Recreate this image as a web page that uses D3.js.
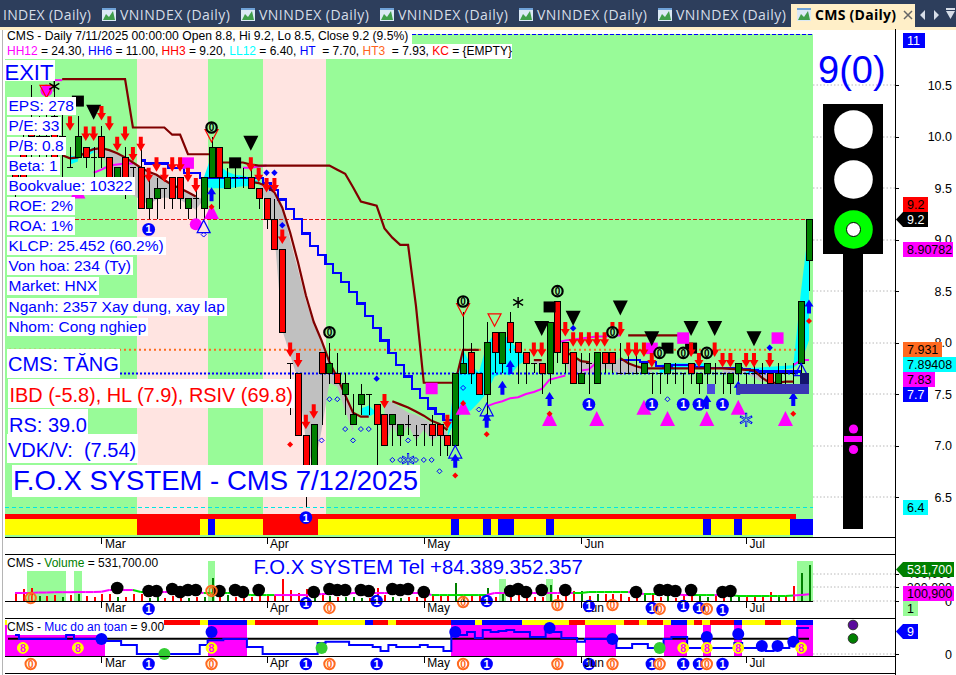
<!DOCTYPE html>
<html><head><meta charset="utf-8">
<style>html,body{margin:0;padding:0;background:#fff;overflow:hidden}svg{display:block}text{font-family:"Liberation Sans",Arial,sans-serif}</style>
<script src="https://cdnjs.cloudflare.com/ajax/libs/d3/7.9.0/d3.min.js"></script>
</head><body><svg id="c" width="956" height="675"></svg>
<script>
// ---------- data: one entry per trading bar (102 bars) ----------
const open=[9.7,9.9,10.1,9.9,10.0,10.2,9.9,9.7,9.8,9.9,9.8,10.0,9.8,9.5,9.8,9.7,9.7,9.3,9.4,9.5,9.6,9.6,9.3,9.4,9.3,9.6,9.9,9.5,9.6,9.6,9.6,9.5,9.4,9.2,8.9,7.8,7.7,7.1,6.6,7.9,7.7,7.7,7.5,7.2,7.4,7.5,7.4,7.3,7.2,7.1,7.2,7.1,7.2,7.2,7.2,7.1,7.0,7.7,7.9,7.7,7.5,8.1,7.8,8.2,8.0,7.9,7.8,7.8,7.7,8.4,8.0,7.9,7.6,7.8,7.6,7.9,7.9,7.7,7.7,7.7,7.7,7.7,7.7,7.7,7.7,7.7,7.8,7.6,7.7,7.7,7.7,7.6,7.7,7.7,7.7,7.7,7.7,7.6,7.7,7.7,7.8,8.8];
const high=[9.8,10.1,10.5,10.2,10.3,10.5,10.3,9.9,10.2,9.9,9.9,10.1,9.8,9.7,9.9,9.7,9.9,9.6,9.6,9.5,9.6,9.6,9.4,9.5,9.6,10.0,9.9,9.7,9.7,9.7,9.7,9.5,9.4,9.4,8.9,7.8,7.7,7.1,7.2,7.9,8.0,7.9,7.7,7.5,7.6,7.5,7.4,7.3,7.3,7.2,7.3,7.2,7.2,7.3,7.2,7.1,7.7,8.3,8.0,7.7,8.2,8.1,8.1,8.3,8.0,7.9,7.8,7.8,8.2,8.4,8.0,7.9,7.9,7.9,7.9,7.9,7.9,8.0,7.9,7.9,7.8,7.7,7.7,7.8,7.8,7.7,7.8,7.7,7.8,7.8,7.7,7.7,7.8,7.7,7.8,7.8,7.7,7.8,7.8,7.8,8.4,9.2];
const low=[9.4,9.5,9.8,9.7,9.8,9.7,9.6,9.7,9.8,9.7,9.6,9.7,9.5,9.5,9.4,9.5,9.3,9.2,9.2,9.3,9.3,9.3,9.2,9.2,9.2,9.6,9.3,9.5,9.5,9.5,9.5,9.3,9.1,8.9,8.1,7.3,7.1,6.4,6.6,7.2,7.6,7.6,7.3,7.2,7.3,7.3,6.8,7.0,7.0,7.0,7.1,7.0,7.0,7.0,6.9,6.9,7.0,7.7,7.6,7.5,7.3,7.7,7.7,7.9,7.6,7.6,7.7,7.5,7.6,7.8,7.7,7.6,7.6,7.5,7.6,7.7,7.7,7.7,7.7,7.7,7.7,7.5,7.5,7.6,7.6,7.5,7.6,7.5,7.5,7.6,7.5,7.5,7.6,7.6,7.6,7.6,7.6,7.6,7.6,7.6,7.7,8.5];
const close=[9.5,9.6,10.0,10.0,9.9,9.8,10.0,9.7,10.0,9.8,9.8,9.8,9.6,9.7,9.5,9.7,9.3,9.4,9.5,9.5,9.4,9.4,9.4,9.4,9.6,9.9,9.6,9.6,9.6,9.6,9.5,9.4,9.2,8.9,8.1,7.8,7.1,6.6,7.2,7.7,7.8,7.6,7.6,7.3,7.5,7.5,7.2,7.0,7.3,7.2,7.2,7.1,7.2,7.1,7.1,7.0,7.7,7.8,7.7,7.5,8.0,7.9,8.1,8.0,7.9,7.8,7.8,7.7,8.2,7.9,7.8,7.6,7.7,7.8,7.9,7.8,7.8,7.7,7.7,7.7,7.8,7.7,7.7,7.8,7.7,7.7,7.7,7.7,7.8,7.7,7.7,7.7,7.8,7.7,7.7,7.7,7.6,7.7,7.7,7.7,8.4,9.2];
const volume=[110000,180000,190000,80000,70000,90000,60000,90000,110000,80000,60000,100000,110000,60000,60000,110000,110000,40000,70000,40000,80000,60000,50000,60000,60000,340000,120000,90000,60000,50000,60000,70000,110000,90000,325000,160000,120000,170000,150000,120000,70000,60000,60000,60000,50000,50000,190000,90000,60000,50000,60000,60000,70000,100000,90000,80000,265000,70000,90000,70000,190000,60000,110000,80000,90000,50000,60000,60000,235000,90000,80000,150000,145000,80000,100000,100000,110000,100000,60000,70000,90000,120000,60000,80000,50000,100000,110000,90000,60000,90000,60000,70000,90000,60000,80000,90000,130000,70000,80000,220000,415000,531700];
const volAvg=[118000,118000,120000,125000,125000,130000,130000,130000,132000,132000,132000,137000,162000,162000,162000,162000,133000,133000,133000,133000,133000,133000,133000,133000,118000,118000,118000,118000,118000,103000,88000,88000,88000,88000,88000,88000,88000,88000,88000,103000,103000,103000,103000,118000,118000,118000,118000,118000,118000,118000,118000,118000,118000,88000,88000,88000,88000,88000,88000,88000,88000,118000,118000,118000,118000,118000,118000,118000,118000,118000,118000,118000,118000,133000,133000,133000,133000,133000,133000,118000,103000,103000,103000,103000,103000,88000,88000,88000,88000,88000,88000,88000,74000,74000,74000,74000,74000,74000,74000,80000,90000,100900];
const volAvgLimeRuns=[[15,17],[24,33],[53,60],[71,78],[80,82],[86,89],[91,99]];
const safety=[6.6,5.2,5.2,5.2,5.2,5.2,5.2,6.6,5.2,5.2,5.2,5.2,4.5,4.5,3.1,3.1,0,0,0,0,0,0,0,0,3.1,4.8,4.8,5.2,5.2,5.2,2.4,2.4,0,0,0,0,0,0,0,3.8,4.2,4.2,4.2,3.1,3.1,3.1,2.4,1,3.1,2.4,2.4,2.4,3.1,2.4,2.4,1,6.6,6.6,7.6,5.5,8.3,7.6,8,8.3,7.6,7.6,5.9,5.9,7.6,7.6,5.5,5.5,4.2,5.2,5.2,5.2,5.2,2.1,2.1,3.5,3.5,2.1,2.1,5.2,5.9,5.9,2.1,2.1,2.1,2.1,2.1,2.1,3.8,2.1,2.1,2.1,1,2.1,2.1,3.8,9,9];
const safetyLevel=5.3;
const months=["Mar","Apr","May","Jun","Jul"];
const monthBars=[11,32,52,72,93];
const priceTicks=[6.5,7,7.5,8,8.5,9,9.5,10,10.5];
const volTicks=[0,200000,400000];

// price levels drawn across the pane
const levelHH6=11, levelLL12=6.4, levelHH3=9.2, levelHT3=7.931, levelHT=7.7;

// indicator lines: [bar, price]
const stopLine=[[6,10.56],[14,10.56],[15,10.09],[19,10.09],[20,10.02],[21,10.02],[22,9.83],[25,9.83],[26,9.75],[29,9.75],[30,9.73],[31,9.72],[40,9.72],[41,9.68],[42,9.64],[43,9.51],[44,9.37],[45,9.35],[46,9.33],[47,9.11],[48,9.02],[49,8.95],[50,8.95],[51,8.36],[52,7.61],[56,7.61],[57,7.93],[59,7.93]];
const stopLine2=[[66,7.83],[67,7.83]];
const stopLine3=[[78,8.07],[85,8.07],[86,7.93]];
const emaA=[[6,9.82],[7,9.79],[8,9.80],[9,9.85],[10,9.88],[11,9.89],[12,9.87],[13,9.84],[14,9.80],[15,9.75],[16,9.70],[17,9.66],[18,9.63],[19,9.58],[20,9.53],[21,9.50],[22,9.46],[23,9.42]];
const emaB=[[30,9.56],[31,9.55],[32,9.52],[33,9.46],[34,9.31],[35,9.07],[36,8.78],[37,8.46],[38,8.20],[39,8.02],[40,7.81],[41,7.66],[42,7.49],[43,7.32],[44,7.28],[45,7.28]];
const emaC=[[48,7.43],[49,7.40],[50,7.37],[51,7.33],[52,7.29],[53,7.24],[54,7.21],[55,7.15]];
const emaD=[[70,7.91],[71,7.87],[72,7.82],[73,7.81]];
const emaE=[[77,7.85],[78,7.80],[79,7.77],[80,7.75],[86,7.75],[90,7.75],[94,7.73],[95,7.66],[96,7.61],[97,7.61],[98,7.62],[99,7.62]];
const stepA=[[16,9.77],[17,9.74],[18,9.74],[19,9.74],[20,9.70],[21,9.70],[22,9.65],[23,9.65],[24,9.60],[25,9.60],[26,9.60],[27,9.60],[28,9.60],[29,9.60],[30,9.60],[31,9.60],[32,9.55],[33,9.48],[34,9.39],[35,9.30],[36,9.20],[37,9.06],[38,8.94],[39,8.85],[40,8.76],[41,8.68],[42,8.59],[43,8.49],[44,8.38],[45,8.26],[46,8.14],[47,8.02],[48,7.90],[49,7.78],[50,7.67],[51,7.55],[52,7.46],[53,7.36],[54,7.31],[55,7.25],[56,7.25]];
const stepB=[[77,7.83],[78,7.83],[79,7.83],[80,7.81],[81,7.81],[82,7.77],[83,7.76],[84,7.78],[85,7.78],[86,7.78],[87,7.76],[88,7.75],[89,7.75],[90,7.75],[91,7.75],[92,7.75],[93,7.74],[94,7.73],[95,7.72],[96,7.72],[97,7.72],[98,7.72],[99,7.72],[100,7.72]];
const rsA=[[5,10.55],[6,10.55]];
const rsB=[[10,9.65],[11,9.68],[12,9.72],[13,9.73],[14,9.74],[15,9.74]];
const rsC=[[29,9.70],[30,9.70],[31,9.71],[32,9.72]];
const rsD=[[60,7.38],[61,7.41],[62,7.43],[63,7.46],[64,7.47],[65,7.50],[66,7.52],[67,7.55],[68,7.64],[69,7.66],[70,7.68]];
const rsG=[[72,7.73],[73,7.74],[74,7.81]];
const rsE=[[69,8.00],[70,8.02],[71,8.03],[72,8.04],[73,8.05],[74,8.06],[75,8.06],[76,8.07],[77,8.07]];
const rsF=[[99,7.78],[100,7.83],[101,7.83]];

// clouds: [bar, upper, lower]
const grayClouds=[
 [[10,9.87,9.85],[11,9.89,9.82],[12,9.87,9.68],[13,9.84,9.53],[14,9.80,9.48],[15,9.75,9.43],[16,9.70,9.39],[17,9.66,9.34],[18,9.63,9.39],[19,9.58,9.41],[20,9.53,9.40],[21,9.50,9.39],[22,9.46,9.34],[23,9.42,9.29],[24,9.39,9.39]],
 [[31,9.55,9.55],[32,9.52,9.34],[33,9.48,9.05],[34,9.34,8.12],[35,9.00,7.88],[36,8.71,7.64],[37,8.41,7.05],[38,8.17,6.76],[39,8.02,7.15],[40,7.81,7.61],[41,7.68,7.57],[42,7.54,7.34],[43,7.32,7.13]],
 [[47,7.44,6.97],[48,7.42,7.20],[49,7.37,7.05],[50,7.32,7.20],[51,7.30,7.05],[52,7.26,7.15],[53,7.22,7.05],[54,7.17,7.10],[55,7.13,7.00]],
 [[70,7.85,7.81],[71,7.81,7.61],[72,7.83,7.66],[73,7.81,7.71],[74,7.81,7.68],[75,7.81,7.75],[76,7.81,7.73],[77,7.85,7.68],[78,7.81,7.71],[79,7.78,7.71],[80,7.78,7.73],[81,7.73,7.71]],
 [[66,7.83,7.80],[67,7.81,7.78]],
 [[90,7.75,7.70],[91,7.75,7.70],[92,7.75,7.70],[93,7.75,7.70],[95,7.70,7.62],[96,7.70,7.62]]
];
const cyanClouds=[
 [[9,9.85,9.80],[10,9.90,9.85]],
 [[7,9.82,9.73],[8,9.80,9.76]],
 [[24,9.60,9.52],[25,9.82,9.50],[26,9.72,9.50],[27,9.66,9.50],[28,9.63,9.51],[29,9.62,9.52],[30,9.60,9.52],[31,9.57,9.55]],
 [[44,7.36,7.30],[45,7.39,7.28],[46,7.32,7.32]],
 [[55,7.08,7.08],[56,7.66,7.25],[57,7.93,7.32],[58,7.78,7.34],[59,7.71,7.42],[60,7.98,7.51],[61,8.09,7.67],[62,8.09,7.70],[63,8.02,7.68],[64,7.93,7.78],[65,7.85,7.83]],
 [[82,7.78,7.70],[83,7.80,7.72],[85,7.80,7.75],[88,7.80,7.75]],
 [[93,7.75,7.70],[99,7.78,7.75]],
 [[99,7.78,7.75],[100,8.51,7.81],[101,9.14,8.02]]
];

// signals: [bar, price]
const redArrows=[[7,10.2],[11,10.3],[12,10.2],[9,10.1],[10,10.1],[13,10.0],[14,10.1],[15,9.9],[16,10.0],[17,9.7],[18,9.8],[19,9.7],[20,9.8],[21,9.8],[22,9.7],[23,9.6],[30,9.8],[31,9.7],[32,9.6],[33,9.6],[34,9.1],[35,8.0],[36,7.9],[37,7.3],[38,7.4],[47,7.5],[55,7.3],[66,8.0],[67,8.0],[70,8.2],[71,8.1],[72,8.1],[73,8.1],[74,8.1],[75,8.1],[76,8.2],[77,8.2],[78,8.0],[79,8.0],[80,8.0],[81,7.9],[86,8.0],[87,7.9],[89,8.0],[90,7.9],[91,7.9],[93,7.9],[94,7.9],[96,7.9]];
const blueArrows=[[25,9.51],[56,6.92],[60,7.31],[62,7.63],[63,7.83],[68,7.52],[88,7.49],[92,7.63],[99,7.52],[101,8.42]];
const blackTriangles=[[30,10.01],[10,10.31],[67,8.21],[71,8.31],[77,8.41],[81,8.11],[86,8.21],[89,8.21],[94,8.11]];
const magentaTriangles=[[25,9.20],[57,7.30],[68,7.19],[74,7.19],[80,7.30],[83,7.19],[88,7.19],[92,7.30],[98,7.19],[8,9.4]];
const blackSquares=[[28,9.80],[8,10.40],[68,8.40],[83,8.00],[86,8.00]];
const magentaSquares=[[22,9.80],[53,7.61],[81,8.00],[85,8.10],[97,8.10]];
const zeroMarks=[[25,10.09],[40,8.10],[57,8.40],[69,8.50],[76,8.10],[82,7.90],[85,7.90],[88,7.90]];
const oneMarks=[[17,9.10],[37,6.30],[73,7.40],[81,7.40],[85,7.40],[87,7.40],[90,7.40]];
const redOutlineDown=[[25,10.07],[57,8.38],[61,8.28],[4,10.5]];
const blueOutlineUp=[[24,9.19],[56,7.00],[60,7.41],[100,7.80]];
const redDiamonds=[[25,9.32],[35,7.01],[56,6.71],[57,7.41],[60,7.11],[68,7.31],[99,7.31],[101,8.21]];
const blueDiamonds=[[32,9.65],[33,9.65],[34,9.14],[46,7.65],[71,8.14],[96,7.95],[60,7.28]];
const openDiamonds=[[24,9.05],[40,7.45],[41,7.45],[42,7.16],[43,7.05],[44,7.16],[45,7.16],[39,7.05],[48,6.86],[49,6.86],[50,7.05],[51,6.86],[52,6.86],[53,6.86],[54,6.75],[57,7.56],[59,7.35],[83,7.45]];
const snowflakes=[[50,6.86],[93,7.25]];
const asterisks=[[5,10.49],[64,8.39]];
const magentaDots=[[4,10.45],[23,9.15]];
// translucent boxes: [start bar, end bar, top price, bottom price]
const blueBoxes=[[91.8,101,7.6,7.5,"#3a36b4"],[88.05,89.06,7.6,7.5,"#4a4ae0"],[99.86,101,7.7,7.6,"#14146e"]];

// volume pane marks
const volHighlights=[[2,6,443000],[8,8,443000],[25,25,590000],[62,62,325000],[68,68,325000],[100,101,590000]];
const volBlackDots=[[13,192000],[17,148000],[18,148000],[20,177000],[21,133000],[22,162000],[23,162000],[26,148000],[28,162000],[29,133000],[31,162000],[38,133000],[40,177000],[41,162000],[42,162000],[44,162000],[45,148000],[48,177000],[49,162000],[50,177000],[52,133000],[63,148000],[64,177000],[65,133000],[67,162000],[70,162000],[79,133000],[82,162000],[83,162000],[84,148000],[86,162000],[90,133000],[91,148000]];
const volOnes=[[17,-118000],[37,-30000],[46,0],[60,0],[73,-74000],[81,-103000],[85,-74000],[87,-103000],[90,-133000]];
const volZeros=[[2,44000],[25,148000],[40,-103000],[57,-15000],[69,-59000],[76,-59000],[82,-118000],[88,-118000]];

// safety pane marks
const safetyFill=[[-1.25,11.5],[24.5,29.5],[55.5,71.5],[72.5,76.5],[82.5,85.5],[87.5,88.5],[91.5,92.5],[99.5,101.5]];
const safetyBlue=[[11,5.2],[25,7.6],[56,7.6],[68,9],[76,5.2],[88,5.9],[92,6.9],[95,2.8],[97,2.8],[99,4.2]];
const safetyGreen=[[19,0],[39,2.1],[82,2.1]];
const safetyEight=[1,8,25,85,88,92,100];
const rowOnes=[17,37,46,60,73,81,85,87,90];
const rowZeros=[2,25,40,57,69,76,82,88];
const rowValue=-3.46;
const stripRuns=[[-1.25,18.95,"Y"],[18.95,23.53,"R"],[23.53,24.55,"Y"],[24.55,29.5,"B"],[29.5,30.5,"Y"],[30.5,38.5,"R"],[38.5,44.5,"Y"],[44.5,45.5,"B"],[45.5,47.45,"R"],[47.45,48.5,"Y"],[48.5,55.5,"R"],[55.5,58.5,"B"],[58.5,59.4,"Y"],[59.4,64.5,"B"],[64.5,66.4,"Y"],[66.4,70.5,"Y"],[70.5,72.5,"R"],[72.5,77.5,"Y"],[77.5,79.4,"R"],[79.4,80.4,"Y"],[80.4,82.4,"R"],[82.4,83.45,"Y"],[83.45,85.5,"B"],[85.5,86.4,"Y"],[86.4,87.4,"R"],[87.4,88.4,"Y"],[88.4,91.5,"R"],[91.5,92.5,"B"],[92.5,95.4,"Y"],[95.4,97.4,"R"],[97.4,99.35,"Y"],[99.35,101.5,"B"]];
const ribbonRuns=[[-1.25,101.5,"Y"],[15.5,23.5,"R"],[24.5,25.5,"B"],[31.5,38.5,"R"],[55.5,56.5,"B"],[59.5,60.5,"B"],[61.5,63.5,"B"],[67.5,68.5,"B"],[87.5,88.5,"B"],[91.5,92.5,"B"],[98.6,101.5,"B"]];
const ribbonTopEnd=99.4;
const pinkZones=[[15.5,24.5],[31.5,39.5]];

// text
const tabNames=["INDEX (Daily)","VNINDEX (Daily)","VNINDEX (Daily)","VNINDEX (Daily)","VNINDEX (Daily)","VNINDEX (Daily)"];
const header1="CMS - Daily 7/11/2025 00:00:00 Open 8.8, Hi 9.2, Lo 8.5, Close 9.2 (9.5%)";
const header2=[["HH12","#ff00ff"],[" = 24.30, ","#000"],["HH6","#0000ff"],[" = 11.00, ","#000"],["HH3","#ff0000"],[" = 9.20, ","#000"],["LL12","#00ffff"],[" = 6.40, ","#000"],["HT","#0000ff"],["  = 7.70, ","#000"],["HT3","#ff6420"],["  = 7.93, ","#000"],["KC","#ff0000"],[" = {EMPTY}","#000"]];
const infoLabels=["EPS: 278","P/E: 33","P/B: 0.8","Beta: 1","Bookvalue: 10322","ROE: 2%","ROA: 1%","KLCP: 25.452 (60.2%)","Von hoa: 234 (Ty)","Market: HNX","Nganh: 2357 Xay dung, xay lap","Nhom: Cong nghiep"];
const bigLabels=[["EXIT",4.5,80,22,"#0000ff",60,21],["CMS: TĂNG",8,371,20,"#0000ff",349,29],["IBD (-5.8), HL (7.9), RSIV (69.8)",9.5,402,19.9,"#ff0000",379,29],["RS: 39.0",9,432,20,"#0000ff",409,25],["VDK/V:  (7.54)",8,457,20,"#0000ff",434,29],["F.O.X SYSTEM - CMS 7/12/2025",13,490,27.5,"#0000ff",465,32]];
const rightTags=[["11",903,33,22,"#0000ff","#fff",0],["9.2",903,197,25,"#ff0000","#000",0],["9.2",903,212,25,"#000","#fff",1],["8.90782",903,242,50,"#ff00ff","#000",0],["7.931",903,342,39,"#ff6a20","#000",0],["7.89408",903,357,53,"#00ffff","#000",0],["7.83",903,372,32,"#ff00ff","#000",0],["7.7",903,387,25,"#0000ff","#fff",0],["6.4",903,500,25,"#00ffff","#000",0],["531,700",903,562,51,"#008000","#fff",1],["100,900",903,586,51,"#ff00ff","#000",0],["1",903,601,15,"#98fb98","#000",0],["9",903,624,15,"#0000ff","#fff",1]];

// ---------- scales ----------
const x=d3.scaleLinear().domain([0,101]).range([15,809]);
const y=d3.scaleLinear().domain([6.5,10.5]).range([497,85.3]);
const yv=d3.scaleLinear().domain([0,531700]).range([601,565]);
const ys=d3.scaleLinear().domain([0,9]).range([654,628]);
const pal={Y:"#ffff00",R:"#ff0000",B:"#0000ff"};
const LEFT=5,RIGHT=813,AX=895,GREEN="#98fb98",PINK="#ffe4e1";
const svg=d3.select("#c");
const rect=(g,a,b,c,d,f)=>g.append("rect").attr("x",a).attr("y",b).attr("width",c).attr("height",d).attr("fill",f).attr("shape-rendering","crispEdges");
const edge=k=>Math.max(LEFT,Math.min(RIGHT,x(k)));

// ---------- chrome ----------
const chrome=svg.append("g");
rect(chrome,0,0,956,27,"#2d3e5c");
rect(chrome,0,27,956,2.5,"#ffefc8");
const tabTextX=[3,120,259,398,537,676], tabIconX=[null,102,241,380,519,658];
function icon(g,ix){rect(g,ix,8,14,13,"#dbe9f5");g.append("path").attr("d",`M${ix+1},20L${ix+4},14L${ix+7},17L${ix+11},11L${ix+13},20Z`).attr("fill","#3f9e4a");rect(g,ix,8,14,2,"#6fa2d8");}
tabNames.forEach((t,i)=>{
  if(tabIconX[i]!==null)icon(chrome,tabIconX[i]);
  chrome.append("text").attr("x",tabTextX[i]).attr("y",20).attr("font-size",14).style("font-family","'Open Sans'").attr("textLength",i?110:88).attr("fill","#d6dde8").text(t);
});
rect(chrome,791,4,124,25,"#ffefc8");
icon(chrome,797);
chrome.append("text").attr("x",815).attr("y",20).attr("font-size",14).attr("font-weight",700).style("font-family","'Open Sans'").attr("textLength",81).attr("fill","#000").text("CMS (Daily)");
chrome.append("path").attr("d","M904,11L912,19M912,11L904,19").attr("stroke","#666").attr("stroke-width",1.5);
chrome.append("path").attr("d","M925,10L920,15L925,20ZM934,10L939,15L934,20ZM946,11H955L950.5,19Z M946,8H955").attr("fill","#d6dde8");
rect(chrome,946,8,9,1.5,"#d6dde8");
rect(svg,2,30,1,645,"#b5b5b5");

// ---------- main pane ----------
const main=svg.append("g");
rect(main,LEFT,34,RIGHT-LEFT,503,GREEN);
pinkZones.forEach(z=>rect(main,x(z[0]),34,x(z[1])-x(z[0]),480,PINK));
// grid in the right margin
priceTicks.forEach(p=>main.append("line").attr("x1",RIGHT).attr("x2",AX).attr("y1",Math.round(y(p))).attr("y2",Math.round(y(p))).attr("stroke","#b8b8b8").attr("stroke-dasharray","1.5,2"));
// ribbon
ribbonRuns.forEach(r=>rect(main,edge(r[0]),519,edge(r[1])-edge(r[0]),16,pal[r[2]]));
rect(main,LEFT,514,x(ribbonTopEnd)-LEFT,5,"#ff0000");
// clouds
const cloud=d3.area().x(d=>x(d[0])).y0(d=>y(d[2])).y1(d=>y(d[1]));
grayClouds.forEach(c=>main.append("path").attr("d",cloud(c)).attr("fill","#c0c0c0"));
cyanClouds.forEach(c=>main.append("path").attr("d",cloud(c)).attr("fill","#00ffff"));
// level lines
const level=(p,x1,col,dash,w)=>main.append("line").attr("x1",x1).attr("x2",RIGHT).attr("y1",Math.round(y(p))).attr("y2",Math.round(y(p))).attr("stroke",col).attr("stroke-width",w||1).attr("stroke-dasharray",dash).attr("shape-rendering","crispEdges");
level(levelHH6,412,"#0000ff","4,2");
level(levelLL12,5,"#00e5e5","4,3");
level(levelHH3,75,"#e01010","4,2");
main.append("line").attr("x1",9).attr("x2",796).attr("y1",y(levelHT3)).attr("y2",y(levelHT3)).attr("stroke","#ff6a20").attr("stroke-width",2).attr("stroke-dasharray","2,3");
main.append("line").attr("x1",120).attr("x2",802).attr("y1",y(levelHT)).attr("y2",y(levelHT)).attr("stroke","#0000ff").attr("stroke-width",2).attr("stroke-dasharray","2,2");
// lines
const ln=d3.line().x(d=>x(d[0])).y(d=>y(d[1]));
const stp=d3.line().curve(d3.curveStep).x(d=>x(d[0])).y(d=>y(d[1]));
[rsA,rsB,rsC,rsD,rsG,rsE,rsF].forEach(s=>main.append("path").attr("d",ln(s)).attr("fill","none").attr("stroke","#ff00ff").attr("stroke-width",2));
[stepA,stepB].forEach(s=>main.append("path").attr("d",stp(s)).attr("fill","none").attr("stroke","#0000ff").attr("stroke-width",2.2).attr("shape-rendering","crispEdges"));
[stopLine,stopLine2,stopLine3,emaA,emaB,emaC,emaD,emaE].forEach(s=>main.append("path").attr("d",ln(s)).attr("fill","none").attr("stroke","#800000").attr("stroke-width",2.2));
// candles
const bars=d3.range(open.length);
const cg=main.append("g").attr("shape-rendering","crispEdges");
cg.selectAll("line.w").data(bars).join("line").attr("class","w").attr("x1",k=>Math.round(x(k))).attr("x2",k=>Math.round(x(k))).attr("y1",k=>y(high[k])).attr("y2",k=>y(low[k])).attr("stroke","#000");
cg.selectAll("rect.b").data(bars.filter(k=>open[k]!==close[k])).join("rect").attr("class","b")
 .attr("x",k=>Math.round(x(k))-3).attr("width",6)
 .attr("y",k=>y(Math.max(open[k],close[k]))).attr("height",k=>Math.abs(y(open[k])-y(close[k])))
 .attr("fill",k=>close[k]>open[k]?"#008000":"#ff0000").attr("stroke","#000");
cg.selectAll("line.d").data(bars.filter(k=>open[k]===close[k])).join("line").attr("class","d").attr("x1",k=>Math.round(x(k))-3).attr("x2",k=>Math.round(x(k))+3).attr("y1",k=>y(open[k])).attr("y2",k=>y(open[k])).attr("stroke","#000");
// marks
const place=(g,data,d,attrs)=>{const s=g.selectAll(null).data(data).join("path").attr("d",d).attr("transform",e=>`translate(${x(e[0])},${y(e[1])})`);Object.entries(attrs).forEach(([a,b])=>s.attr(a,b));return s;};
place(main,blackSquares,"M-6,0H6V11H-6Z",{fill:"#000"});
place(main,magentaSquares,"M-6,0H6V11.5H-6Z",{fill:"#ff00ff"});
main.selectAll(null).data(magentaDots).join("circle").attr("cx",d=>x(d[0])).attr("cy",d=>y(d[1])).attr("r",6).attr("fill","#ff00ff");
place(main,magentaTriangles,"M0,-15L7.5,0H-7.5Z",{fill:"#ff00ff"});
place(main,blackTriangles,"M-7.5,0H7.5L0,15Z",{fill:"#000"});
place(main,redOutlineDown,"M-6.5,0H6.5L0,12.5Z",{fill:"none",stroke:"#ff0000","stroke-width":1.2});
place(main,redArrows,"M-2,0H2V7H4.5L0,14.5L-4.5,7H-2Z",{fill:"#ff0000"});
place(main,blueArrows,"M0,0L4.5,7H2V14H-2V7H-4.5Z",{fill:"#0000ff"});
place(main,blueOutlineUp,"M0,0L6.5,12.5H-6.5Z",{fill:"none",stroke:"#0000ff","stroke-width":1.2});
place(main,redDiamonds,"M0,-3L3,0L0,3L-3,0Z",{fill:"#ff0000"});
place(main,blueDiamonds,"M0,-3.2L3.2,0L0,3.2L-3.2,0Z",{fill:"#0000ff"});
place(main,openDiamonds,"M0,-2.5L2.5,0L0,2.5L-2.5,0Z",{fill:"none",stroke:"#0000ff"});
place(main,snowflakes,"M0,-7V7M-6,-3.5L6,3.5M-6,3.5L6,-3.5",{fill:"none",stroke:"#0000ff","stroke-width":2.2});
place(main,snowflakes,"M0,-6V6M-5,-3L5,3M-5,3L5,-3",{fill:"none",stroke:GREEN,"stroke-width":.8});
place(main,asterisks,"M0,-5.5V5.5M-5,-3L5,3M-5,3L5,-3",{fill:"none",stroke:"#000","stroke-width":1.4});
// round badges
function badge(g,px,py,r,fill,stroke,sw,txt,col,fs,bold){
  g.append("circle").attr("cx",px).attr("cy",py).attr("r",r).attr("fill",fill).attr("stroke",stroke).attr("stroke-width",sw);
  g.append("text").attr("x",px).attr("y",py+fs*.36).attr("text-anchor","middle").attr("font-size",fs).attr("font-weight",bold?700:400).attr("fill",col).text(txt);
}
zeroMarks.forEach(d=>badge(main,x(d[0]),y(d[1]),5.2,GREEN,"#000",2.2,"0","#000",10,1));
oneMarks.forEach(d=>badge(main,x(d[0]),y(d[1]),6.4,"#0000ff","none",0,"1","#fff",11,1));
blueBoxes.forEach(b=>rect(main,x(b[0]),y(b[2]),x(b[1])-x(b[0]),y(b[3])-y(b[2]),b[4]));
// text boxes
function boxed(g,txt,tx,base,fs,col,top,h,padL,padR){
  const t=g.append("text").attr("x",tx).attr("y",base).attr("font-size",fs).attr("fill",col).attr("xml:space","preserve").style("white-space","pre").text(txt);
  const w=t.node().getComputedTextLength();
  g.insert("rect","text").attr("x",tx-padL).attr("y",top).attr("width",w+padL+padR).attr("height",h).attr("fill","#fff").attr("shape-rendering","crispEdges");
}
infoLabels.forEach((t,i)=>{const g=main.append("g");boxed(g,t,8.5,110.5+i*20.1,15.5,"#0000ff",96.5+i*20.1,18,1.5,2);});
bigLabels.forEach(b=>{const g=main.append("g");boxed(g,b[0],b[1],b[2],b[3],b[4],b[5],b[6],1.5,1.5);});
// header
rect(main,LEFT,29.5,407,14.5,"#fff");rect(main,LEFT,44,507,15,"#fff");
main.append("text").attr("x",7).attr("y",40).attr("font-size",12.15).attr("fill","#000").text(header1);
const h2=main.append("text").attr("x",7).attr("y",55).attr("font-size",12).attr("xml:space","preserve").style("white-space","pre");
header2.forEach(p=>h2.append("tspan").attr("fill",p[1]).text(p[0]));

// ---------- volume pane ----------
const vp=svg.append("g");
volHighlights.forEach(h=>rect(vp,x(h[0])-3.9,yv(h[2]),x(h[1])-x(h[0])+7.8,601-yv(h[2]),GREEN));
vp.selectAll(null).data(bars).join("rect").attr("x",k=>Math.round(x(k))-.5).attr("width",2).attr("y",k=>yv(volume[k])).attr("height",k=>601-yv(volume[k])).attr("fill",k=>close[k]>open[k]?"#008000":"#ff0000").attr("shape-rendering","crispEdges");
const isLime=k=>volAvgLimeRuns.some(r=>k>=r[0]&&k<r[1]);
vp.selectAll(null).data(bars.slice(0,-1)).join("line").attr("x1",k=>x(k)).attr("x2",k=>x(k+1)).attr("y1",k=>yv(volAvg[k])).attr("y2",k=>yv(volAvg[k+1])).attr("stroke",k=>isLime(k)?"#00e000":"#ff00ff").attr("stroke-width",2);
vp.selectAll(null).data(volBlackDots).join("circle").attr("cx",d=>x(d[0])).attr("cy",d=>yv(d[1])).attr("r",6.3).attr("fill","#000");
vp.append("text").attr("x",7).attr("y",567).attr("font-size",12).attr("xml:space","preserve").style("white-space","pre").call(t=>{t.append("tspan").text("CMS - ");t.append("tspan").attr("fill","#008000").text("Volume");t.append("tspan").text(" = 531,700.00");});
vp.append("text").attr("x",253.5).attr("y",574).attr("font-size",20.3).attr("fill","#0000ff").text("F.O.X SYSTEM Tel +84.389.352.357");

// ---------- safety pane ----------
const sp=svg.append("g");
stripRuns.forEach(r=>rect(sp,edge(r[0]),620,edge(r[1])-edge(r[0]),5,pal[r[2]]));
safetyFill.forEach(r=>rect(sp,edge(r[0]),625,edge(r[1])-edge(r[0]),31,"#ff00ff"));
rect(sp,6.5,619,157,16,"#fff");
sp.append("text").attr("x",7).attr("y",631).attr("font-size",12).attr("xml:space","preserve").style("white-space","pre").call(t=>{t.append("tspan").text("CMS - ");t.append("tspan").attr("fill","#0000ff").text("Muc do an toan");t.append("tspan").text(" = 9.00");});
sp.append("line").attr("x1",8).attr("x2",809).attr("y1",ys(safetyLevel)).attr("y2",ys(safetyLevel)).attr("stroke","#000").attr("stroke-width",2);
sp.append("path").attr("d",d3.line().curve(d3.curveStep).x((d,i)=>x(i)).y(d=>ys(d))(safety)).attr("fill","none").attr("stroke","#0000ff").attr("stroke-width",2);
safetyBlue.forEach(d=>sp.append("circle").attr("cx",x(d[0])).attr("cy",ys(d[1])).attr("r",6).attr("fill","#0000ff"));
safetyGreen.forEach(d=>sp.append("circle").attr("cx",x(d[0])).attr("cy",ys(d[1])).attr("r",6).attr("fill","#32cd32"));
safetyEight.forEach(k=>badge(sp,x(k),ys(2.1),5.4,"#ffff00","#ffff00",1,"8","#ff00ff",10.5,1));
rowOnes.forEach(k=>badge(sp,x(k),ys(rowValue),6.2,"#0000ff","none",0,"1","#fff",11,1));
rowZeros.forEach(k=>badge(sp,x(k),ys(rowValue),5.2,"#fff","#ff6a20",2,"0","#ff6a20",10.5,1));

// ---------- axes ----------
const axg=svg.append("g");
function monthAxis(py){
  const a=axg.append("g").attr("transform",`translate(0,${py})`).call(d3.axisBottom(x).tickValues(monthBars).tickFormat((d,i)=>months[i]).tickSize(7));
  a.select(".domain").remove();
  a.selectAll("line").attr("stroke","#000").attr("shape-rendering","crispEdges");
  a.selectAll("text").attr("text-anchor","start").attr("x",3).attr("y",2.5).attr("dy",".71em").attr("font-size",12).style("font-family","'Liberation Sans'").attr("fill","#000");
}
monthAxis(537);monthAxis(601);monthAxis(656);
volOnes.forEach(d=>badge(axg,x(d[0]),yv(d[1]),6.2,"#0000ff","none",0,"1","#fff",11,1));
volZeros.forEach(d=>badge(axg,x(d[0]),yv(d[1]),5.2,"none","#ff6a20",2,"0","#ff6a20",10.5,1));
[[5,895,537],[5,895,554],[5,813,601],[5,895,618],[5,895,656],[5,895,673]].forEach(l=>axg.append("line").attr("x1",l[0]).attr("x2",l[1]).attr("y1",l[2]).attr("y2",l[2]).attr("stroke","#000").attr("shape-rendering","crispEdges"));
[[813,895,yv(400000)],[813,895,yv(200000)],[813,895,yv(0)],[813,895,654]].forEach(l=>axg.append("line").attr("x1",l[0]).attr("x2",l[1]).attr("y1",Math.round(l[2])).attr("y2",Math.round(l[2])).attr("stroke","#b8b8b8").attr("stroke-dasharray","1.5,2"));
function rightAxis(sc,vals,fmt){
  const a=axg.append("g").attr("transform",`translate(${AX},0)`).call(d3.axisRight(sc).tickValues(vals).tickFormat(fmt).tickSize(4));
  a.select(".domain").remove();
  a.selectAll("line").attr("stroke","#000").attr("shape-rendering","crispEdges");
  a.selectAll("text").attr("text-anchor","end").attr("x",57).attr("font-size",12.5).style("font-family","'Liberation Sans'").attr("fill","#000");
}
rightAxis(y,priceTicks,d3.format(".1f"));
rightAxis(yv,volTicks,d3.format(","));
rightAxis(ys,[0],d3.format("d"));
axg.append("line").attr("x1",AX).attr("x2",AX).attr("y1",29).attr("y2",675).attr("stroke","#000").attr("shape-rendering","crispEdges");

// ---------- traffic light ----------
const tl=svg.append("g");
rect(tl,823,104,60,150,"#000");rect(tl,843,254,20,275,"#000");
const lampCols=["#fff","#fff","#00ff00"];
lampCols.forEach((c,i)=>tl.append("circle").attr("cx",853.5).attr("cy",129.5+i*50).attr("r",19.3).attr("fill",c));
tl.append("circle").attr("cx",853.5).attr("cy",229.5).attr("r",7).attr("fill","#fff").attr("stroke","#000").attr("stroke-width",1);
tl.append("circle").attr("cx",853.5).attr("cy",429).attr("r",4.6).attr("fill","#ff00ff");
rect(tl,844,436,18,6,"#ff00ff");
tl.append("circle").attr("cx",853.5).attr("cy",449.5).attr("r",4.6).attr("fill","#ff00ff");
svg.append("text").attr("x",818).attr("y",83).attr("font-size",38).attr("fill","#0000ff").text("9(0)");
svg.append("circle").attr("cx",853).attr("cy",625).attr("r",4.8).attr("fill","#5a0a9c").attr("stroke","#333");
svg.append("circle").attr("cx",853).attr("cy",638.5).attr("r",4.8).attr("fill","#008000").attr("stroke","#333");

// ---------- right tags ----------
const tg=svg.append("g");
rightTags.forEach(t=>{
  const [txt,tx,ty,w,bg,fg,ptr]=t;
  rect(tg,tx,ty,w,15,bg);
  if(ptr)tg.append("path").attr("d",`M${tx},${ty}L${tx-7},${ty+7.5}L${tx},${ty+15}Z`).attr("fill",bg);
  tg.append("text").attr("x",tx+(txt.length<3?w/2-(txt.length===1?3.5:7):4)).attr("y",ty+12).attr("font-size",12.5).attr("fill",fg).text(txt);
});
</script></body></html>
